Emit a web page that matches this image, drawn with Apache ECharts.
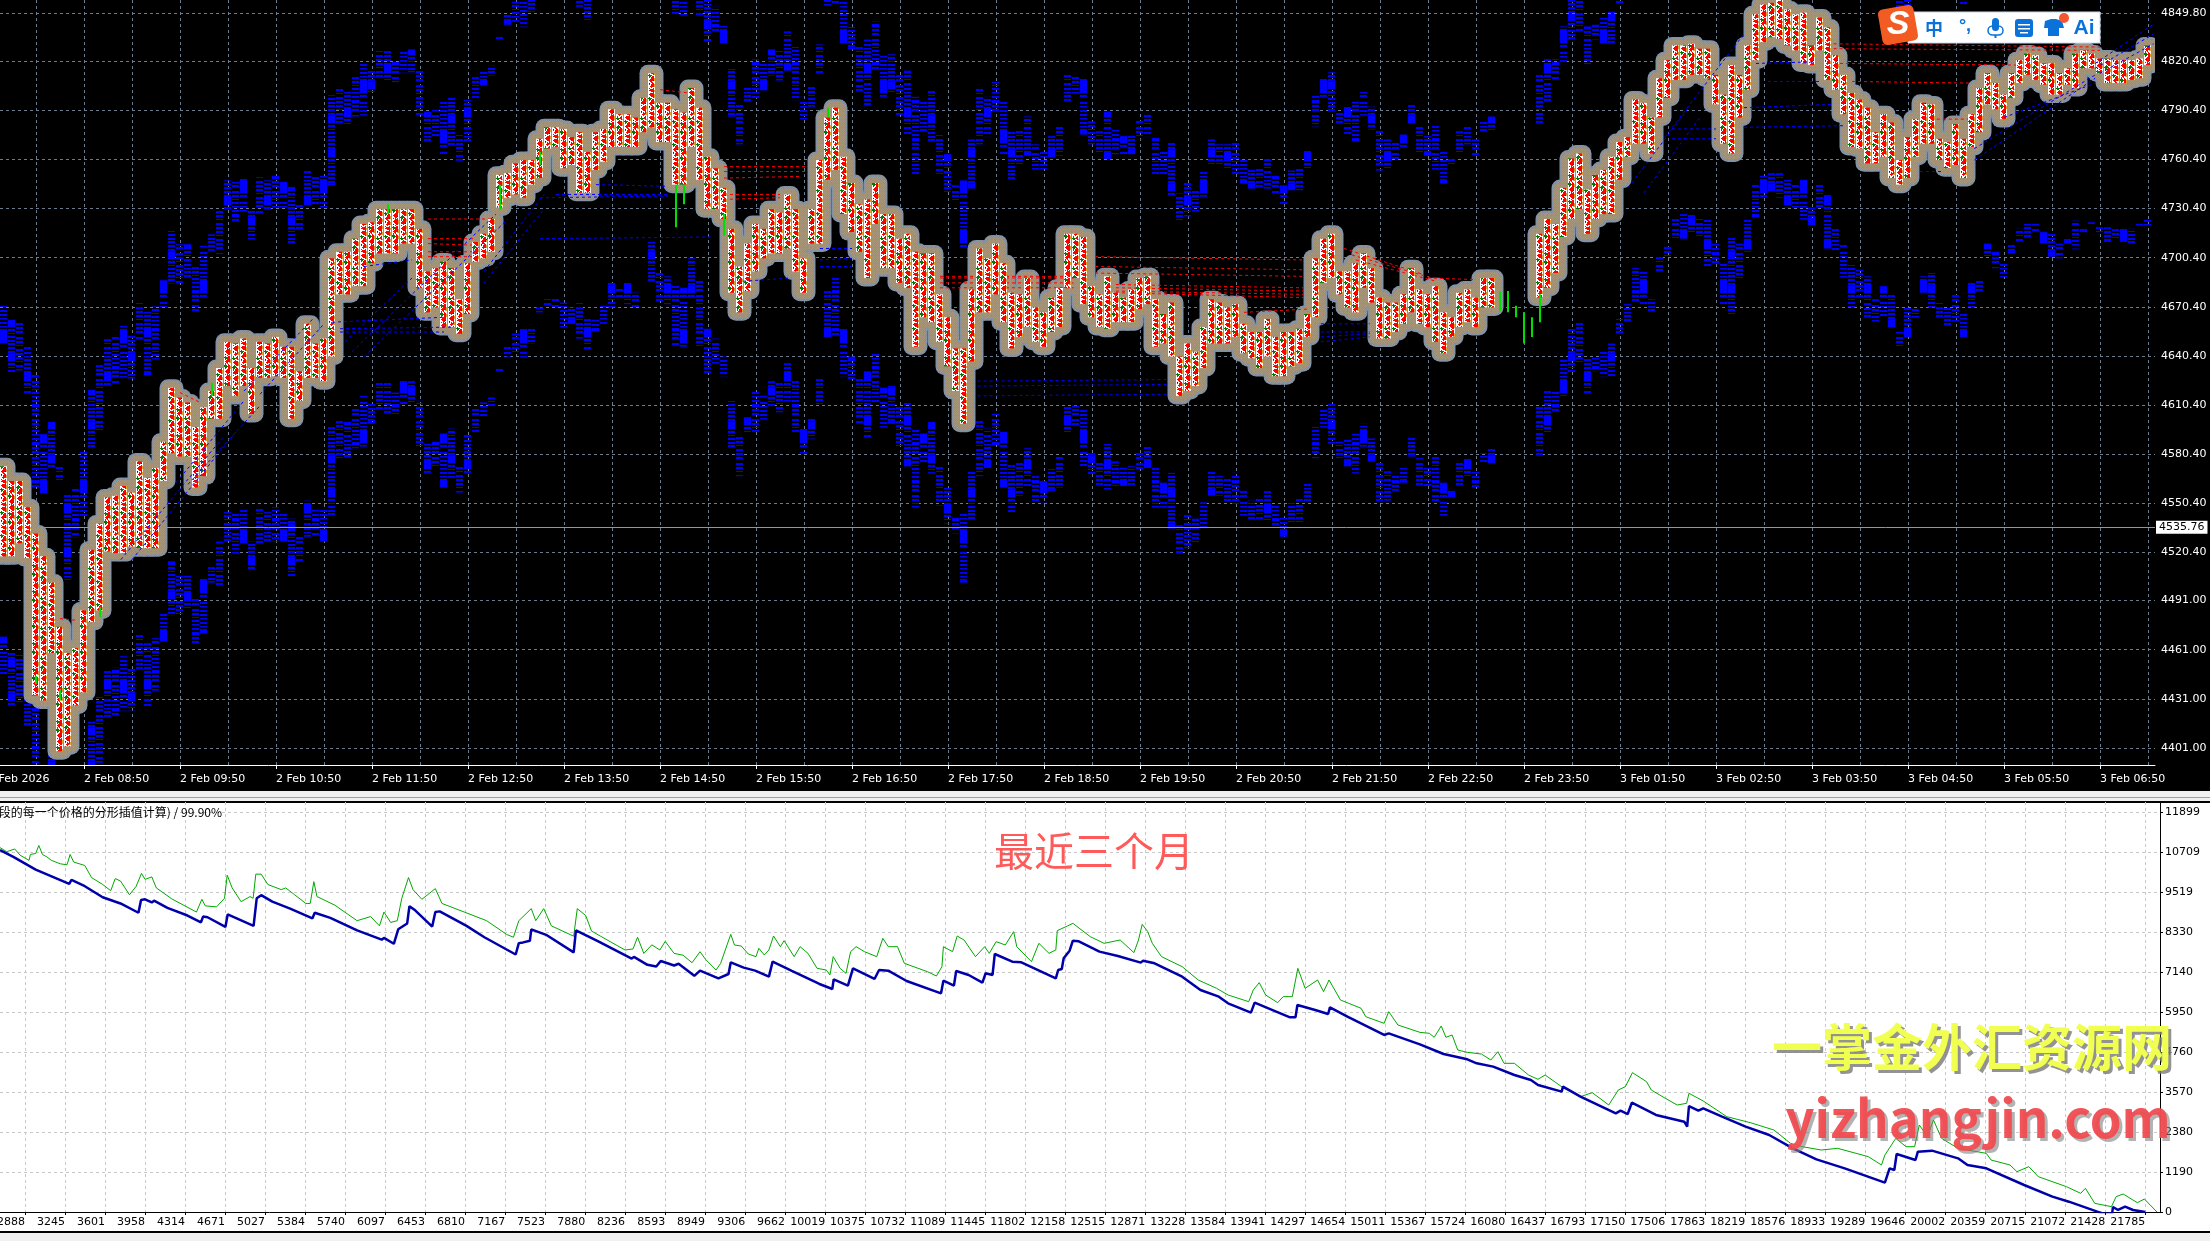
<!DOCTYPE html>
<html><head><meta charset="utf-8">
<style>html,body{margin:0;padding:0;background:#f0f0f0;overflow:hidden}#c{width:2210px;height:1241px}</style>
<script src="https://cdn.jsdelivr.net/npm/echarts@6/dist/echarts.min.js"></script>
</head><body><div id="c"></div>
<script>
const firstBar = 2;
const fpHigh = [4573,4564,4564,4548,4532,4518,4502,4475,4459,4462,4485,4522,4538,4554,4555,4561,4557,4576,4566,4572,4588,4621,4615,4612,4597,4609,4619,4633,4649,4648,4651,4633,4649,4648,4652,4646,4646,4631,4660,4648,4651,4700,4704,4704,4712,4721,4722,4730,4730,4730,4730,4730,4718,4692,4694,4698,4694,4675,4697,4710,4715,4724,4751,4752,4758,4760,4760,4773,4780,4780,4779,4774,4777,4765,4777,4779,4791,4788,4788,4786,4798,4813,4795,4795,4791,4789,4804,4792,4762,4755,4743,4718,4695,4709,4721,4718,4730,4728,4739,4730,4700,4730,4760,4786,4792,4762,4746,4733,4736,4746,4727,4727,4712,4715,4704,4703,4703,4678,4664,4645,4645,4681,4706,4700,4709,4697,4679,4678,4688,4670,4667,4676,4682,4715,4715,4713,4683,4678,4689,4679,4676,4681,4688,4689,4675,4666,4673,4640,4648,4643,4658,4675,4673,4670,4672,4660,4655,4655,4663,4652,4655,4655,4657,4666,4700,4712,4715,4692,4692,4697,4703,4694,4676,4673,4673,4678,4694,4681,4678,4683,4667,4664,4679,4681,4676,4688,4688,null,null,null,null,null,4715,4724,4721,4743,4761,4764,4742,4751,4754,4762,4771,4774,4797,4795,4786,4810,4821,4830,4830,4831,4828,4828,4812,4800,4818,4812,4830,4849,4855,4856,4858,4852,4849,4850,4830,4847,4841,4824,4812,4801,4797,4792,4777,4788,4783,4760,4774,4785,4795,4794,4773,4771,4782,4773,4788,4804,4813,4807,4800,4813,4821,4825,4824,4819,4819,4813,4816,4825,4827,4825,4822,4822,4821,4821,4821,4822,4830];
const fpLow = [4518,4518,4526,4517,4433,4430,4459,4399,4402,4427,4435,4478,4485,4521,4520,4520,4524,4523,4523,4523,4564,4581,4579,4579,4560,4567,4602,4602,4622,4616,4622,4605,4627,4627,4628,4627,4602,4613,4627,4627,4625,4640,4678,4678,4683,4683,4697,4703,4703,4703,4709,4709,4682,4667,4670,4658,4658,4654,4666,4698,4700,4704,4731,4737,4739,4737,4745,4749,4767,4768,4755,4757,4740,4740,4754,4759,4768,4768,4768,4768,4777,4780,4771,4771,4745,4745,4768,4748,4730,4730,4724,4679,4667,4680,4692,4700,4703,4703,4706,4692,4679,4709,4709,4748,4754,4727,4716,4704,4688,4721,4694,4694,4685,4682,4646,4664,4661,4649,4634,4619,4599,4637,4667,4667,4678,4661,4645,4652,4658,4649,4646,4655,4658,4682,4688,4672,4664,4658,4657,4661,4661,4661,4669,4672,4646,4648,4640,4616,4619,4622,4633,4648,4648,4648,4652,4642,4639,4633,4640,4628,4628,4634,4636,4652,4664,4685,4688,4678,4670,4667,4682,4673,4651,4651,4655,4660,4667,4660,4658,4649,4642,4652,4658,4661,4658,4670,4670,null,null,null,null,null,4676,4682,4691,4713,4724,4730,4715,4724,4727,4727,4748,4762,4770,4770,4764,4786,4798,4809,4809,4812,4812,4810,4794,4770,4764,4786,4803,4821,4832,4835,4834,4830,4827,4819,4818,4827,4809,4803,4788,4768,4767,4758,4758,4762,4749,4745,4749,4762,4770,4770,4760,4755,4757,4749,4768,4777,4794,4791,4785,4798,4807,4812,4809,4806,4800,4800,4806,4804,4816,4816,4813,4807,4807,4807,4809,4810,4818];
const bandHigh = [4469,4460,4459,4445,4427,4390,4398,4371,4353,4357,4381,4417,4433,4448,4450,4457,4450,4471,4465,4468,4484,4515,4506,4506,4493,4505,4512,4527,4545,4544,4547,4527,4547,4545,4548,4544,4541,4530,4552,4547,4548,4597,4602,4600,4609,4616,4612,4625,4624,4618,4625,4625,4613,4587,4588,4593,4596,4573,4594,4609,4612,4615,4633,4646,4654,4657,4657,4670,4676,4676,4673,4670,4673,4663,4663,4672,4686,4682,4686,4679,null,4710,4692,4689,4685,4682,4700,4688,4657,4651,4640,4613,4591,4603,4619,4616,4625,4625,4636,4627,4596,4602,4628,4680,4688,4658,4640,4627,4631,4642,4621,4622,4610,4612,4596,4593,4600,4573,4561,4542,4545,4570,4602,4596,4605,4594,4575,4576,4584,4567,4564,4572,4579,4610,4610,4608,4581,4575,4587,4576,4572,4573,4582,4585,4572,4563,4569,4537,4544,4541,4551,4570,4567,4567,4569,4558,4552,4554,4558,4549,4542,4551,4554,4563,4597,4608,4611,4588,4590,4593,4599,4590,4576,4570,4569,4573,4591,4578,4572,4579,4563,4558,4575,4578,4570,4581,4584,null,null,null,null,null,4610,4619,4619,4639,4657,4661,4639,4640,4645,4648,4664,4672,4694,4692,4675,4701,4707,4725,4727,4727,4724,4724,4709,4697,4713,4709,4724,4745,4751,4752,4752,4748,4746,4748,4731,4745,4739,4719,4709,4697,4693,4689,4675,4683,4678,4655,4670,4670,4689,4691,4673,4670,4678,4667,4685,4688,4709,4704,4697,4709,4718,4722,4721,4716,4716,4709,4713,4723,4719,4722,4720,4719,4719,4718,4718,4721,4725];
const bandLow = [4445,4427,4429,4415,4357,4354,4369,4362,4301,4327,4339,4381,4392,4420,4421,4424,4424,4447,4426,4436,4466,4482,4481,4485,4465,4471,4502,4500,4527,4520,4526,4509,4524,4527,4527,4527,4506,4515,4530,4530,4527,4542,4578,4578,4584,4585,4599,4608,4605,4605,4611,4611,4585,4569,4572,4560,4566,4557,4569,4594,4603,4609,4630,4640,4642,4639,4648,4667,4670,4670,4657,4660,4651,4643,4655,4660,4670,4675,4672,4670,null,4685,4673,4672,4646,4646,4676,4646,4630,4636,4628,4584,4567,4593,4594,4600,4609,4606,4612,4594,4581,4590,4610,4652,4652,4628,4625,4599,4590,4612,4596,4599,4585,4573,4548,4575,4569,4549,4538,4532,4502,4540,4567,4572,4585,4560,4545,4555,4560,4551,4551,4558,4560,4593,4597,4573,4567,4561,4558,4561,4561,4561,4570,4572,4548,4548,4535,4520,4523,4526,4535,4555,4555,4551,4549,4543,4540,4540,4540,4536,4530,4539,4539,4551,4578,4596,4587,4578,4573,4569,4585,4576,4551,4552,4558,4563,4579,4561,4560,4551,4543,4554,4561,4567,4560,4575,4575,null,null,null,null,null,4579,4593,4606,4616,4630,4636,4616,4631,4628,4628,4652,4661,4672,4672,4667,4691,4700,4712,4712,4715,4713,4695,4697,4672,4666,4688,4704,4724,4736,4740,4737,4731,4730,4724,4719,4731,4706,4704,4688,4670,4676,4663,4660,4664,4657,4646,4651,4664,4679,4670,4663,4658,4660,4652,4670,4679,4701,4694,4688,4703,4710,4712,4716,4709,4701,4700,4709,4706,4716,4721,4716,4710,4712,4710,4709,4720,4719];
const bandGap = 202.6;
const greenBars = [[6,4445,4440],[9,4437,4430],[14,4487,4481],[28,4624,4616],[50,4733,4727],[64,4745,4730],[69,4765,4757],[86,4745,4719],[87,4745,4733],[92,4727,4714],[105,4792,4786],[189,4680,4668],[190,4680,4667],[191,4671,4664],[192,4667,4648],[193,4664,4652],[194,4678,4661]];
const redLevels = [[9,4480,11,4479],[24,4618,26.5,4612],[55,4724,63,4724],[55,4712,61,4712],[55,4709,61,4708],[55,4704,61,4704],[55,4701,61,4701],[84,4803,87.5,4801],[92,4756,102.5,4756],[92,4753,102.5,4753],[92,4749,101.5,4750],[92,4739,99,4739],[92,4736,99,4737],[119,4689,135.7,4689],[119,4688,135.7,4688],[119,4685,135.7,4685],[119,4682,135.7,4682],[138.4,4701,164.5,4699],[138.4,4695,164.5,4693],[138.4,4691,164.5,4689],[141,4684,164.5,4682],[141,4682,164.5,4680],[141,4680,164.5,4678],[141,4679,164.5,4676],[157,4667,165,4669],[169.5,4706,179.5,4690],[170.5,4702,180.5,4688],[171,4699,181,4686],[180,4688,186,4687],[230.7,4831,264,4829],[230.7,4828,264,4827],[231.5,4819,253.5,4818],[233,4808,248,4807],[243.6,4785,247.5,4785]];
const blueLevels = [[16.6,4516,29.6,4592],[18,4516,31,4594],[23.5,4563,32,4613],[25,4562,34,4610],[32,4619,40.8,4664],[34,4617,42,4660],[44.6,4649,53,4688],[45.5,4643,63.5,4727],[47,4640,65,4724],[62,4685,69.5,4730],[62,4692,69.5,4739],[43,4661,57,4664],[44,4655,57,4655],[44,4657,58,4658],[47,4695,53,4699],[69,4737,85,4738],[71,4739,85,4739],[76,4745,85,4744],[69,4712,90.5,4713],[104,4706,108,4706],[104,4699,108,4700],[104,4695,108,4695],[94.4,4686,100.4,4688],[123.7,4625,147.7,4626],[123.7,4622,147.7,4623],[123.7,4616,147.7,4617],[166.6,4660,172.7,4660],[166.6,4655,172.7,4655],[166.6,4652,172.7,4654],[166.6,4649,172.7,4652],[205,4743,212.6,4792],[207,4740,214,4786],[209.6,4774,219.5,4837],[210.5,4773,216,4773],[210.5,4779,216,4779],[219.5,4780,232,4781],[219.5,4792,230.7,4794],[222.5,4808,229,4808],[221,4819,228.5,4820],[248.3,4760,263.4,4810],[248.3,4767,263.4,4812],[252,4786,263.4,4807],[263.4,4819,270.7,4843],[263.4,4816,270.7,4837],[264,4813,270.7,4831],[241.5,4753,244.5,4753]];
const priceTicks = [4849.8,4820.4,4790.4,4760.4,4730.4,4700.4,4670.4,4640.4,4610.4,4580.4,4550.4,4520.4,4491,4461,4431,4401];
const currentPrice = 4535.76;
const timeLabels = ['2 Feb 2026','2 Feb 08:50','2 Feb 09:50','2 Feb 10:50','2 Feb 11:50','2 Feb 12:50','2 Feb 13:50','2 Feb 14:50','2 Feb 15:50','2 Feb 16:50','2 Feb 17:50','2 Feb 18:50','2 Feb 19:50','2 Feb 20:50','2 Feb 21:50','2 Feb 22:50','2 Feb 23:50','3 Feb 01:50','3 Feb 02:50','3 Feb 03:50','3 Feb 04:50','3 Feb 05:50','3 Feb 06:50'];
const barsPerLabel = 12, barsPerGrid = 6;

const tradeTicks = [2888,3245,3601,3958,4314,4671,5027,5384,5740,6097,6453,6810,7167,7523,7880,8236,8593,8949,9306,9662,10019,10375,10732,11089,11445,11802,12158,12515,12871,13228,13584,13941,14297,14654,15011,15367,15724,16080,16437,16793,17150,17506,17863,18219,18576,18933,19289,19646,20002,20359,20715,21072,21428,21785];
const balanceTicks = [0,1190,2380,3570,4760,5950,7140,8330,9519,10709,11899];
const blueTrades = [2665,2784,2983,3282,3302,3421,3580,3739,3899,3922,3958,4018,4038,4157,4336,4456,4475,4515,4674,4694,4925,4953,4993,5092,5251,5450,5470,5609,5848,6067,6087,6175,6214,6294,6314,6365,6517,6545,6584,6823,6982,7261,7289,7328,7388,7400,7539,7778,7798,7997,8295,8315,8435,8514,8554,8673,8713,8853,8904,9068,9158,9178,9293,9395,9518,9551,9722,9968,10083,10095,10222,10267,10459,10500,10582,10745,11052,11073,11167,11187,11298,11421,11449,11511,11531,11687,11768,12075,12096,12128,12145,12198,12227,12280,12464,12628,12832,12853,12955,13201,13364,13528,13610,13814,13847,14162,14211,14228,14387,14502,14518,14674,15001,15042,15320,15531,15742,15826,15973,16162,16309,16373,16583,16595,16751,17066,17108,17172,17209,17424,17676,17702,17718,17802,17845,18013,18223,18433,18644,18854,19106,19464,19506,19548,19569,19737,19758,19884,20116,20200,20368,20705,20957,21104,21357,21420,21490,21497,21542,21605,21676,21785];
const blueBalance = [10769,10564,10185,9764,9877,9692,9364,9179,8902,9282,9302,9210,9261,9046,8820,8615,8789,8769,8481,8851,8512,9333,9425,9231,9025,8738,8902,8748,8379,8102,8153,7979,8410,8584,9097,8974,8492,8923,8943,8512,8174,7661,7999,8020,8071,8410,8235,7722,8379,8051,7538,7589,7353,7302,7466,7333,7384,7025,7179,6952,7080,7427,7269,7180,7001,7447,7170,6783,6634,6922,6733,7249,6932,7199,7180,6872,6505,6882,6733,7170,7051,6823,7100,7051,7675,7447,7427,6952,7199,7229,7546,7775,8072,8052,7745,7616,7418,7477,7398,7001,6604,6406,6208,5930,6227,5791,5791,6158,6009,5890,6089,5811,5266,5315,4988,4700,4542,4423,4324,4076,3927,3778,3580,3729,3431,2935,3014,2915,3252,2886,2687,2539,3153,3014,3084,2836,2539,2291,1894,1566,1299,872,1299,1249,1725,1547,1795,1825,1596,1398,1299,803,456,307,10,-60,-30,150,60,160,60,0];
const greenTrades = [2665,2725,2796,2844,2924,2936,2983,3011,3043,3083,3123,3202,3262,3290,3322,3421,3481,3580,3652,3692,3739,3819,3879,3926,3958,4018,4058,4197,4416,4464,4495,4595,4666,4690,4734,4814,4893,4921,4945,4993,5052,5172,5212,5291,5391,5430,5462,5490,5649,5848,5968,6047,6087,6147,6206,6246,6306,6346,6425,6545,6604,6803,7002,7181,7241,7289,7400,7440,7511,7579,7778,7810,7885,7937,8017,8236,8307,8347,8403,8474,8546,8594,8673,8753,8833,8904,8953,9047,9088,9129,9178,9211,9272,9334,9403,9428,9477,9518,9559,9620,9653,9743,9796,9866,9947,10029,10062,10091,10152,10205,10246,10295,10369,10479,10533,10582,10664,10725,10930,11011,11060,11073,11155,11196,11257,11359,11441,11482,11543,11625,11699,11727,11858,11924,12014,12075,12088,12178,12227,12382,12505,12648,12771,12812,12845,12894,12935,13017,13201,13344,13508,13610,13794,13835,13888,13945,14052,14101,14183,14232,14297,14408,14461,14510,14612,14796,14837,15001,15042,15124,15320,15405,15447,15510,15552,15607,15657,15742,15868,15952,16015,16070,16162,16288,16372,16436,16541,16604,16751,16856,17003,17088,17151,17214,17340,17382,17508,17613,17697,17718,17845,18055,18265,18475,18623,18728,18896,19043,19317,19434,19464,19561,19653,19729,19771,19842,19897,19969,20116,20368,20410,20579,20641,20747,20831,21083,21209,21251,21335,21483,21525,21588,21714,21777,21889];
const greenBalance = [10841,10718,10800,10615,10461,10636,10667,10903,10636,10564,10461,10359,10328,10636,10410,10308,9949,9743,9559,9918,9846,9436,9692,10072,9897,9969,9641,9313,8923,9302,9107,9077,9333,10020,9641,9231,9384,9333,10051,10051,9743,9590,9641,9436,9179,9179,9826,9384,9128,8666,8789,8512,8923,8615,8666,9333,9949,9590,9302,9620,9179,8923,8666,8256,8174,8666,9025,8666,9025,8512,8205,9025,8820,8358,8205,7794,7825,8174,7692,7948,7794,8051,7692,7640,7415,7743,7517,7199,7398,7795,8260,7943,7913,7675,7596,7844,7646,7795,8211,7893,8072,7596,7893,7695,7249,7199,7051,7596,7249,7100,7745,7893,7745,7596,8141,7893,7893,7398,7150,7021,7299,7893,7745,8211,8092,7596,7893,7695,8042,7943,8340,7893,7447,7993,7695,7795,8370,8508,8588,8191,7993,8092,7715,8092,8558,8340,7993,7596,7299,6902,6654,6456,6257,6604,6823,6456,6227,6406,6406,7249,6654,6902,6555,6902,6307,6059,5811,5613,5960,5563,5345,5315,5196,5533,5196,5266,4819,4750,4700,4522,4770,4423,4423,4076,3947,4076,3828,3679,3431,3550,3183,3629,3729,4145,3877,3629,3381,3183,3233,3530,3302,2836,2657,2439,2042,1943,1844,1894,1646,1398,1695,2191,1943,1943,2588,2241,2737,2191,1894,1745,1547,1398,1200,1348,1051,753,555,704,257,159,456,535,277,386,0];

// ---- textures for the footprint columns and the volume dashes (pixel maps, not data) ----
const palette = {W:'#ffffff',R:'#ff0000',G:'#007a00',O:'#e0a030',B:'#0000ff',K:'#000000'};
const fpMaps = [
 ['WGWWRWW','GGGWRRW','GGGGRRO','WGGWRRO','WGWWRRO','WWWRRRW','WWRRRRW','WRRRRRW','WWRRRBW','WWWRRWW','WRWRWRW','WWWRRRW','WWRRRRO','WRRRRRO','WWRRRRO','WWWRRRO','WBWWRRW','WWWRWWW','WGWWRRW','GGGRRRW','WGGRRRW','WGWRRRO','WWRRRRO','WRRRRRO','WWRRWOO','WRWRWWW'],
 ['WWWRWWW','WWRRRRW','WRRRRRO','WWRRRRO','WWWRRRO','WWGWRRO','WGGGWWW','GGGGGWW','WGGWRRW','WGWRRRO','WRWRRRO','WWRRRRO','WRRRRRW','WRRRRBW','WWWRWWW','WRWWWRW','WWWRRRO','WWRRRRO','WRRRRRO','WWRRRRW','WWWRRRW','WBWWWRW','WRWRWRO','WWWRRRO','WWRRROO','WWWRWWW','WRWWWRW','WGWWRRW','GGGRRRW','WGGWWRO'],
 ['WWWWWRW','WWRRRRW','WRRRRRO','WWRRRRO','WWWRRRO','WGWWWRO','GGGGWWW','WGGWRRW','WRWRRRW','WWWRRRO','WWRRRRO','WRRRRBO','WWRRWWW','WWWRRWW','WBWWRRW','WRWRRRO','WWWRRRO','WWRRRRO','WWWRWWW','WRWWWRW','WWRRRRW','WRRRRRO','WWWRRRO'],
];
function makeFpTile(map){
  const c=document.createElement('canvas');c.width=8;c.height=map.length;
  const g=c.getContext('2d');
  map.forEach((row,y)=>{for(let x=0;x<row.length;x++){g.fillStyle=palette[row[x]];g.fillRect(x,y,1,1);}});
  return {image:c,repeat:'repeat'};
}
const fpTiles = fpMaps.map(makeFpTile);
// each entry: [y, h] blue stripe rows inside a tile
const dashMaps = [
 {h:44,r:[[0,2],[4,1],[7,2],[11,2],[15,2],[19,10],[31,2],[35,1],[39,2]]},
 {h:38,r:[[1,2],[5,2],[9,1],[12,2],[16,1],[20,2],[24,3],[29,2],[33,2]]},
 {h:50,r:[[2,2],[6,1],[10,2],[14,2],[18,1],[22,2],[26,1],[29,14],[45,2]]},
 {h:34,r:[[0,2],[3,2],[7,2],[11,2],[14,7],[23,2],[27,1],[30,2]]},
 {h:42,r:[[1,2],[5,2],[9,1],[13,2],[17,2],[21,2],[25,1],[29,2],[33,2],[37,2]]},
];
function makeDashTile(m){
  const c=document.createElement('canvas');c.width=8;c.height=m.h;
  const g=c.getContext('2d');g.fillStyle='#0000ff';
  m.r.forEach(s=>g.fillRect(0,s[0],7,s[1]));
  return {image:c,repeat:'repeat'};
}
const dashTiles = dashMaps.map(makeDashTile);
function dither(a,b){
  const c=document.createElement('canvas');c.width=4;c.height=4;
  const g=c.getContext('2d');g.fillStyle=a;g.fillRect(0,0,4,4);g.fillStyle=b;
  [[0,0],[2,0],[1,1],[3,1],[0,2],[2,2],[1,3]].forEach(p=>g.fillRect(p[0],p[1],1,1));
  return {image:c,repeat:'repeat'};
}

// ---- build rows from the arrays ----
const fpRows=[], bandRows=[];
fpHigh.forEach((h,j)=>{ if(h!=null) fpRows.push([firstBar+j,h,fpLow[j]]); });
bandHigh.forEach((h,j)=>{ if(h!=null){ bandRows.push([firstBar+j,h,bandLow[j]]); bandRows.push([firstBar+j,h+bandGap,bandLow[j]+bandGap]); }});
const pair=(a,b)=>a.map((v,i)=>[v,b[i]]);
const font='"DejaVu Sans"';
const cjk='"Noto Sans CJK SC"';

function colRect(api,w,left){
  const a=api.coord([api.value(0),api.value(1)]), b=api.coord([api.value(0),api.value(2)]);
  return {x:Math.round(a[0])-left,y:a[1],width:w,height:b[1]-a[1]};
}
const rxAxis={xAxisIndex:0,yAxisIndex:0,coordinateSystem:'cartesian2d',type:'custom',clip:true,animation:false,silent:true,encode:{x:0,y:[1,2]}};
function haloSeries(a,b,lw,z){
  const paint=dither(a,b);
  return Object.assign({},rxAxis,{z,data:fpRows,renderItem:(p,api)=>({type:'rect',shape:colRect(api,7,4),
    style:{fill:paint,stroke:paint,lineWidth:lw,lineJoin:'round'}})});
}
function segSeries(rows,color,z,w){
  return Object.assign({},rxAxis,{z,data:rows,encode:{x:[0,2],y:[1,3]},renderItem:(p,api)=>{
    const a=api.coord([api.value(0),api.value(1)]), b=api.coord([api.value(2),api.value(3)]);
    return {type:'line',shape:{x1:a[0],y1:a[1],x2:b[0],y2:b[1]},style:{stroke:color,lineWidth:w,lineDash:[3,3],fill:null}};
  }});
}

const gridLine='#6d7c8c';
const option={
  animation:false,
  backgroundColor:'#f0f0f0',
  grid:[
    {left:-12,top:0,width:2167,height:765,containLabel:false,outerBoundsMode:'none'},
    {left:0,top:802,width:2160,height:410,containLabel:false,outerBoundsMode:'none'}
  ],
  xAxis:[
    {gridIndex:0,type:'value',min:0,max:270.875,position:'bottom',
      axisLine:{lineStyle:{color:'#fff',width:1}},
      axisTick:{show:true,length:4,lineStyle:{color:'#fff'},customValues:timeLabels.map((_,k)=>k*barsPerLabel)},
      axisLabel:{color:'#fff',fontFamily:font,fontSize:11,align:'left',margin:9,showMinLabel:true,showMaxLabel:true,
        customValues:timeLabels.map((_,k)=>k*barsPerLabel),formatter:v=>timeLabels[Math.round(v/barsPerLabel)]||''},
      splitLine:{show:false}},
    {gridIndex:0,type:'value',min:0,max:270.875,position:'top',
      axisLine:{show:false},
      axisTick:{show:false,customValues:Array.from({length:46},(_,k)=>k*barsPerGrid)},
      axisLabel:{show:false},
      splitLine:{show:true,lineStyle:{color:gridLine,width:1,type:[3,3]}}},
    {gridIndex:1,type:'value',min:2665,max:21916,position:'bottom',
      axisLine:{onZero:false,lineStyle:{color:'#000',width:1}},
      axisTick:{length:3,lineStyle:{color:'#000'},customValues:tradeTicks},
      axisLabel:{color:'#000',fontFamily:font,fontSize:11,align:'right',margin:5,customValues:tradeTicks,formatter:v=>String(v)},
      splitLine:{show:true,lineStyle:{color:'#c8c8c8',width:1,type:[3,3]}}}
  ],
  yAxis:[
    {gridIndex:0,type:'value',position:'right',min:4390.6,max:4857.74,
      axisLine:{show:true,lineStyle:{color:'#fff',width:1}},
      axisTick:{show:true,length:4,lineStyle:{color:'#fff'},customValues:priceTicks},
      axisLabel:{color:'#fff',fontFamily:font,fontSize:11,margin:6,padding:[2,0,0,0],customValues:priceTicks,formatter:v=>v.toFixed(2)},
      splitLine:{show:true,lineStyle:{color:gridLine,width:1,type:[3,3]}}},
    {gridIndex:1,type:'value',position:'right',min:0,max:12197,
      axisLine:{show:true,onZero:false,lineStyle:{color:'#000',width:1}},
      axisTick:{show:true,length:3,lineStyle:{color:'#000'},customValues:balanceTicks},
      axisLabel:{color:'#000',fontFamily:font,fontSize:11,margin:5,padding:[2,0,0,0],customValues:balanceTicks,formatter:v=>String(v)},
      splitLine:{show:true,lineStyle:{color:'#c8c8c8',width:1,type:[3,3]}}}
  ],
  series:[
    Object.assign({},rxAxis,{z:3,data:bandRows,renderItem:(p,api)=>({type:'rect',shape:colRect(api,7,4),
      style:{fill:dashTiles[api.value(0)%dashTiles.length]}}),
      markLine:{silent:true,symbol:'none',animation:false,lineStyle:{color:'#8899aa',width:1,type:'solid'},
        label:{show:true,position:'end',distance:1,formatter:()=>currentPrice.toFixed(2),color:'#000',backgroundColor:'#fff',fontFamily:font,fontSize:11,padding:[1,3]},
        data:[{yAxis:currentPrice}]}}),
    haloSeries('#7590a8','#8a98a8',17,4),
    haloSeries('#98907f','#a8967a',12,5),
    segSeries(redLevels,'#ff0000',6,1),
    Object.assign({},rxAxis,{z:7,data:fpRows,renderItem:(p,api)=>({type:'rect',shape:colRect(api,7,4),
      style:{fill:fpTiles[api.value(0)%fpTiles.length]}})}),
    segSeries(blueLevels,'#0000ff',8,1),
    Object.assign({},rxAxis,{z:9,data:greenBars,renderItem:(p,api)=>{
      const s=colRect(api,2,1);
      return {type:'rect',shape:s,style:{fill:'#00e000'}};
    }}),
    {type:'line',xAxisIndex:2,yAxisIndex:1,data:pair(greenTrades,greenBalance),showSymbol:false,symbol:'none',z:3,
      lineStyle:{color:'#00a800',width:1},animation:false,silent:true},
    {type:'line',xAxisIndex:2,yAxisIndex:1,data:pair(blueTrades,blueBalance),showSymbol:false,symbol:'none',z:4,
      lineStyle:{color:'#0000aa',width:2.5},animation:false,silent:true}
  ],
  graphic:[
    {type:'rect',z:-5,silent:true,shape:{x:0,y:0,width:2210,height:791},style:{fill:'#000'}},
    {type:'rect',z:-5,silent:true,shape:{x:0,y:797,width:2210,height:1},style:{fill:'#a0a0a0'}},
    {type:'rect',z:-5,silent:true,shape:{x:0,y:802,width:2210,height:430},style:{fill:'#fff'}},
    {type:'rect',z:-4,silent:true,shape:{x:0,y:801,width:2210,height:2},style:{fill:'#000'}},
    {type:'rect',z:-4,silent:true,shape:{x:0,y:1231,width:2210,height:2},style:{fill:'#000'}},
    {type:'text',z:20,silent:true,x:222,y:806,style:{text:'段的每一个价格的分形插值计算) / 99.90%',font:'12px '+cjk,fill:'#000',textAlign:'right'}},
    {type:'text',z:20,silent:true,x:1094,y:851,style:{text:'最近三个月',font:'40px '+cjk,fill:'#ff5a5a',textAlign:'center',textVerticalAlign:'middle'}},
    {type:'text',z:20,silent:true,x:1975,y:1050,style:{text:'一掌金外汇资源网',font:'bold 50px '+cjk,fill:'#808080',opacity:.85,textAlign:'center',textVerticalAlign:'middle'}},
    {type:'text',z:21,silent:true,x:1972,y:1047,style:{text:'一掌金外汇资源网',font:'bold 50px '+cjk,fill:'#f0ff50',textAlign:'center',textVerticalAlign:'middle'}},
    {type:'text',z:20,silent:true,x:1981,y:1122,style:{text:'yizhangjin.com',font:'bold 51px '+cjk,fill:'#808080',opacity:.6,textAlign:'center',textVerticalAlign:'middle'}},
    {type:'text',z:21,silent:true,x:1978,y:1119,style:{text:'yizhangjin.com',font:'bold 51px '+cjk,fill:'#f04c50',opacity:.95,textAlign:'center',textVerticalAlign:'middle'}},
    // IME toolbar overlay
    {type:'rect',z:30,silent:true,shape:{x:1908,y:12,width:192,height:31},style:{fill:'#fff',stroke:'#c8d8ea',lineWidth:1}},
    {type:'rect',z:31,silent:true,x:1898,y:25,rotation:0.17,shape:{x:-18,y:-18,width:36,height:36,r:5},style:{fill:'#f25c22'}},
    {type:'text',z:32,silent:true,x:1898,y:25,style:{text:'S',font:'italic bold 34px "Liberation Sans"',fill:'#fff',textAlign:'center',textVerticalAlign:'middle'}},
    {type:'text',z:32,silent:true,x:1934,y:28,style:{text:'中',font:'bold 18px '+cjk,fill:'#0a72d8',textAlign:'center',textVerticalAlign:'middle'}},
    {type:'text',z:32,silent:true,x:1965,y:26,style:{text:'°,',font:'bold 18px "Liberation Sans"',fill:'#0a72d8',textAlign:'center',textVerticalAlign:'middle'}},
    {type:'rect',z:32,silent:true,shape:{x:1992,y:18,width:7,height:13,r:3.5},style:{fill:'#0a72d8'}},
    {type:'rect',z:32,silent:true,shape:{x:1988,y:26,width:15,height:9,r:5},style:{fill:'none',stroke:'#0a72d8',lineWidth:1.5}},
    {type:'rect',z:32,silent:true,shape:{x:1994.5,y:35,width:2,height:3},style:{fill:'#0a72d8'}},
    {type:'rect',z:32,silent:true,shape:{x:2015,y:19,width:18,height:18,r:3},style:{fill:'#0a72d8'}},
    {type:'rect',z:33,silent:true,shape:{x:2018,y:24,width:12,height:1.5},style:{fill:'#fff'}},
    {type:'rect',z:33,silent:true,shape:{x:2018,y:28,width:12,height:1.5},style:{fill:'#fff'}},
    {type:'rect',z:33,silent:true,shape:{x:2020,y:32,width:8,height:1.5},style:{fill:'#fff'}},
    {type:'polygon',z:32,silent:true,shape:{points:[[2045,21],[2051,19],[2056,19],[2062,21],[2064,28],[2059,28],[2059,36],[2048,36],[2048,28],[2044,28]]},style:{fill:'#0a72d8'}},
    {type:'circle',z:33,silent:true,shape:{cx:2064,cy:18,r:5},style:{fill:'#f4562f'}},
    {type:'text',z:32,silent:true,x:2084,y:28,style:{text:'Ai',font:'bold 21px "Liberation Sans"',fill:'#0a72d8',textAlign:'center',textVerticalAlign:'middle'}}
  ]
};
const chart=echarts.init(document.getElementById('c'),null,{renderer:'canvas',width:2210,height:1241});
chart.setOption(option);
</script></body></html>
